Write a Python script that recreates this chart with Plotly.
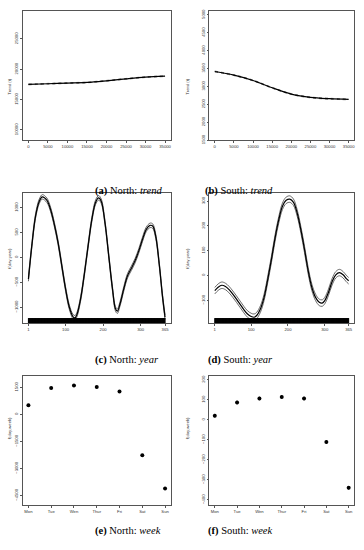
import plotly.graph_objects as go
from plotly.subplots import make_subplots

# ---- data ----
trend_x = [0, 5000, 10000, 15000, 20000, 25000, 30000, 35000]
trend_north = [17500, 17610, 17720, 17830, 18100, 18420, 18700, 18860]
trend_south = [3417, 3315, 3167, 2963, 2787, 2694, 2657, 2639]
trend_north_se = 60
trend_south_se = 12

year_north_days = [1, 10, 20, 30, 38, 50, 60, 70, 80, 90, 100, 110, 120, 125, 130, 140, 150,
                   160, 170, 180, 188, 195, 205, 215, 225, 233, 238, 245, 255, 265, 275, 285,
                   295, 305, 315, 325, 332, 340, 350, 358, 365]
year_north = [-433, 233, 833, 1133, 1220, 1153, 967, 667, 300, -167, -633, -1000, -1193, -1213,
              -1153, -833, -333, 233, 767, 1113, 1200, 1133, 700, 33, -633, -1033, -1080, -933,
              -633, -367, -220, -67, 133, 367, 567, 647, 633, 433, -167, -767, -1200]
year_north_se = 45

year_south_days = [1, 10, 20, 30, 40, 50, 60, 70, 80, 90, 100, 108, 115, 125, 135, 145, 155, 165,
                   175, 185, 195, 205, 215, 225, 235, 245, 255, 265, 275, 285, 293, 300, 310,
                   320, 330, 340, 350, 358, 365]
year_south = [-61, -47, -39, -44, -57, -75, -95, -116, -137, -155, -165, -168, -161, -135, -88,
              -15, 65, 152, 225, 279, 303, 308, 295, 252, 185, 105, 19, -48, -88, -108, -111,
              -101, -68, -25, 3, 12, 3, -11, -21]
year_south_se = 13

rug_days = list(range(1, 366))

weekdays = ["Mon", "Tue", "Wen", "Thur", "Fri", "Sat", "Sun"]
week_north = [512, 1463, 1610, 1518, 1280, -2268, -4116]
week_north_se = [70, 70, 70, 70, 70, 70, 70]
week_south = [21, 87, 107, 115, 107, -111, -340]
week_south_se = [9, 9, 9, 9, 9, 9, 9]

fig = make_subplots(rows=3, cols=2)

FS = 4.2
black = "black"

def band(fig, x, y, se, row, col, dash="dot"):
    up = [v + se for v in y]
    lo = [v - se for v in y]
    for yy in (up, lo):
        fig.add_trace(go.Scatter(x=x, y=yy, mode="lines", line=dict(color="#444", width=0.8, dash=dash,
                                 shape="spline", smoothing=1.0), hoverinfo="skip"), row=row, col=col)
    fig.add_trace(go.Scatter(x=x, y=y, mode="lines", line=dict(color=black, width=1.2, shape="spline",
                             smoothing=1.0)), row=row, col=col)

# trend panels
band(fig, trend_x, trend_north, trend_north_se, 1, 1)
band(fig, trend_x, trend_south, trend_south_se, 1, 2)

# year panels
band(fig, year_north_days, year_north, year_north_se, 2, 1, dash="solid")
band(fig, year_south_days, year_south, year_south_se, 2, 2, dash="solid")

yr_rng = {"c": [-1327, 1300], "d": [-193, 333]}
for (key, col) in (("c", 1), ("d", 2)):
    lo, hi = yr_rng[key]
    ypos = lo + (hi - lo) * 2.2 / 131
    fig.add_trace(go.Scatter(x=rug_days, y=[ypos] * len(rug_days), mode="markers",
                             marker=dict(symbol="line-ns", size=4.5, line=dict(color=black, width=1)),
                             hoverinfo="skip"), row=2, col=col)

# week panels
wx = list(range(1, 8))
fig.add_trace(go.Scatter(x=wx, y=week_north, mode="markers",
                         marker=dict(color=black, size=4),
                         error_y=dict(type="data", array=week_north_se, color=black, thickness=0.8, width=0)),
              row=3, col=1)
fig.add_trace(go.Scatter(x=wx, y=week_south, mode="markers",
                         marker=dict(color=black, size=4),
                         error_y=dict(type="data", array=week_south_se, color=black, thickness=0.8, width=0)),
              row=3, col=2)

# ---- axes ----
left = [23 / 364, 171 / 364]
right = [210 / 364, 355 / 364]
rows_y = [[1 - 140 / 550, 1 - 9 / 550], [1 - 325 / 550, 1 - 193 / 550], [1 - 509 / 550, 1 - 378 / 550]]

ax_common = dict(showgrid=False, zeroline=False, showline=True, mirror=True, linecolor="#555",
                 linewidth=0.8, ticks="outside", ticklen=2, tickwidth=0.6, tickcolor="#555",
                 tickformat="d",
                 tickfont=dict(family="Liberation Sans", size=FS, color="#333"))

xcfg = [
    dict(range=[-1400, 36400], tickvals=trend_x),
    dict(range=[-1400, 36400], tickvals=trend_x),
    dict(range=[-13.6, 379.6], tickvals=[1, 100, 200, 300, 365]),
    dict(range=[-13.6, 379.6], tickvals=[1, 100, 200, 300, 365]),
    dict(range=[0.76, 7.24], tickvals=wx, ticktext=weekdays),
    dict(range=[0.76, 7.24], tickvals=wx, ticktext=weekdays),
]
ycfg = [
    dict(range=[8260, 29620], tickvals=[10000, 15000, 20000, 25000]),
    dict(range=[1490, 5111], tickvals=[1500, 2000, 2500, 3000, 3500, 4000, 4500, 5000]),
    dict(range=yr_rng["c"], tickvals=[-1000, -500, 0, 500, 1000]),
    dict(range=yr_rng["d"], tickvals=[-100, 0, 100, 200, 300]),
    dict(range=[-5050, 2140], tickvals=[-4500, -3000, -1500, 0, 1500]),
    dict(range=[-428, 220], tickvals=[-400, -300, -200, -100, 0, 100, 200]),
]

for i in range(6):
    r, c = i // 2, i % 2
    sfx = "" if i == 0 else str(i + 1)
    fig.layout["xaxis" + sfx].update(domain=left if c == 0 else right, **ax_common, **xcfg[i])
    fig.layout["yaxis" + sfx].update(domain=rows_y[r], tickangle=-90, **ax_common, **ycfg[i])

# y titles
ytitles = ["Trend (t)", "Trend (t)", "f(day;year)", "f(day;year)", "f(day;week)", "f(day;week)"]
for i, t in enumerate(ytitles):
    r, c = i // 2, i % 2
    xp = 5 / 364 if c == 0 else 188 / 364
    yp = sum(rows_y[r]) / 2
    fig.add_annotation(x=xp, y=yp, xref="paper", yref="paper", text=t, textangle=-90, showarrow=False,
                       font=dict(family="Liberation Sans", size=FS, color="#333"))

# captions
captions = [("a", "North", "trend"), ("b", "South", "trend"), ("c", "North", "year"),
            ("d", "South", "year"), ("e", "North", "week"), ("f", "South", "week")]
cap_y = [1 - 183 / 550, 1 - 362 / 550, 1 - 543 / 550]
for i, (lt, reg, comp) in enumerate(captions):
    r, c = i // 2, i % 2
    xp = 93 / 364 if c == 0 else 276 / 364
    fig.add_annotation(x=xp, y=cap_y[r], xref="paper", yref="paper",
                       text=f"<b>({lt})</b> {reg}: <i>{comp}</i>", showarrow=False,
                       font=dict(family="Liberation Serif", size=10.5, color="black"))

fig.update_layout(width=364, height=550, margin=dict(l=0, r=0, t=0, b=0), showlegend=False,
                  plot_bgcolor="white", paper_bgcolor="white")

# drop the default page margin so the figure fills the window
fig.write_html("out.html", config={"displayModeBar": False},
               post_script="document.body.style.margin='0';document.body.style.overflow='hidden';")
